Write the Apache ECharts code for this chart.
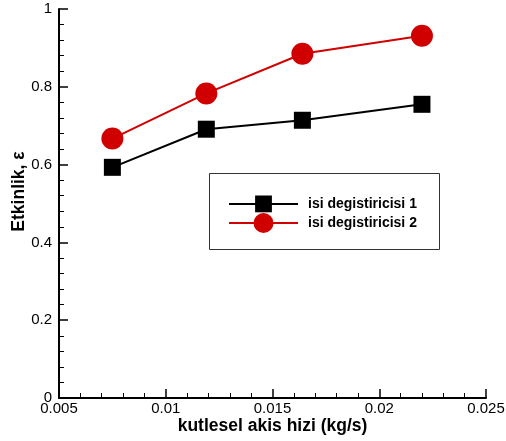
<!DOCTYPE html>
<html>
<head>
<meta charset="utf-8">
<script src="https://cdn.jsdelivr.net/npm/echarts@6/dist/echarts.min.js"></script>
<style>
  html, body { margin: 0; padding: 0; background: #fff; }
  #chart { width: 506px; height: 441px; }
</style>
</head>
<body>
<div id="chart"></div>
<script>
// mass flow rate (kg/s) at each measurement
const flowRates = [0.0075, 0.0119, 0.0164, 0.0220];
// effectiveness of each heat exchanger
const exchanger1 = [0.593, 0.691, 0.714, 0.755];
const exchanger2 = [0.667, 0.783, 0.885, 0.931];
const seriesNames = ['isi degistiricisi 1', 'isi degistiricisi 2'];

const FONT = '"Liberation Sans", Arial, sans-serif';

const pairs = (xs, ys) => xs.map((x, i) => [x, ys[i]]);

const axisCommon = {
  nameMoveOverlap: false,
  axisLine: { show: true, lineStyle: { color: '#000', width: 2 } },
  axisTick: { show: true, inside: true, length: 9, lineStyle: { color: '#000', width: 1.5 } },
  minorTick: { show: true, splitNumber: 5, length: 5, lineStyle: { color: '#000', width: 1 } },
  splitLine: { show: false },
  minorSplitLine: { show: false },
  axisLabel: { color: '#000', fontFamily: FONT, fontSize: 15 }
};

// legend labels: bold 14px, set off a little from the line-and-symbol icon
const legendRich = {
  formatter: '{t|{name}}',
  textStyle: {
    rich: { t: { color: '#000', fontFamily: 'Liberation Sans', fontSize: 14, fontWeight: 'bold', padding: [0, 0, 0, 5] } }
  }
};

const chart = echarts.init(document.getElementById('chart'), null, { renderer: 'canvas' });
chart.setOption({
  animation: false,
  backgroundColor: '#fff',
  grid: { left: 59, right: 20, top: 9, bottom: 43, containLabel: false, outerBoundsMode: 'none' },
  xAxis: Object.assign({}, axisCommon, {
    type: 'value',
    min: 0.005, max: 0.025, interval: 0.005,
    name: 'kutlesel akis hizi (kg/s)',
    nameLocation: 'middle',
    nameGap: 19,
    nameTextStyle: { color: '#000', fontFamily: FONT, fontSize: 17.5, fontWeight: 'bold' },
    axisLabel: Object.assign({}, axisCommon.axisLabel, { margin: 3 })
  }),
  yAxis: Object.assign({}, axisCommon, {
    type: 'value',
    min: 0, max: 1, interval: 0.2,
    name: 'Etkinlik, ε',
    nameLocation: 'middle',
    nameGap: 31,
    nameTextStyle: { color: '#000', fontFamily: FONT, fontSize: 17.5, fontWeight: 'bold', padding: [0, 0, 0, 24] },
    axisLabel: Object.assign({}, axisCommon.axisLabel, { margin: 7 })
  }),
  graphic: [{
    type: 'rect',
    shape: { x: 209.5, y: 173.5, width: 230, height: 76 },
    style: { fill: '#fff', stroke: '#333', lineWidth: 1 },
    z: 0
  }],
  legend: [Object.assign({
    data: [seriesNames[0]],
    left: 228, top: 195.5,
    padding: 0,
    itemWidth: 69, itemHeight: 21,
    z: 5
  }, legendRich), Object.assign({
    data: [seriesNames[1]],
    left: 228, top: 213,
    padding: 0,
    itemWidth: 69, itemHeight: 25,
    z: 5
  }, legendRich)],
  series: [{
    name: seriesNames[0],
    type: 'line',
    data: pairs(flowRates, exchanger1),
    symbol: 'rect',
    symbolSize: 17,
    lineStyle: { color: '#000', width: 2 },
    itemStyle: { color: '#000' }
  }, {
    name: seriesNames[1],
    type: 'line',
    data: pairs(flowRates, exchanger2),
    symbol: 'circle',
    symbolSize: 22,
    lineStyle: { color: '#d00000', width: 2 },
    itemStyle: { color: '#d00000' }
  }]
});
</script>
</body>
</html>
